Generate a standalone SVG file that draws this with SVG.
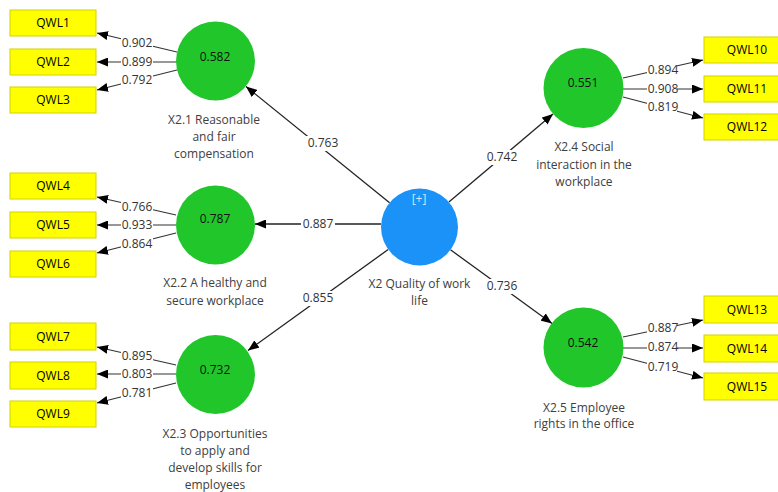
<svg xmlns="http://www.w3.org/2000/svg" width="778" height="492" viewBox="0 0 778 492">
<style>
text{font-family:"Open Sans","Noto Sans","Liberation Sans",sans-serif;font-size:12px;text-anchor:middle}
.box{fill:#ffff00;stroke:#d2d200;stroke-width:1}
.ind{fill:#000}
.lv{fill:#21c62b}
.hv{fill:#1b92f8}
.val{fill:#111}
.lbl{fill:#404040}
.el{fill:#333}
.bg{fill:#fff}
.m{stroke:#333;stroke-width:1.2;fill:none;marker-end:url(#ah)}
.s{stroke:#222;stroke-width:1.3;fill:none;marker-end:url(#ah)}
</style>
<defs>
<marker id="ah" markerUnits="userSpaceOnUse" markerWidth="11" markerHeight="9" refX="11" refY="4.5" orient="auto">
<path d="M0,0 L11,4.5 L0,9 z" fill="#000"/>
</marker>
</defs>
<rect width="778" height="492" fill="#fff"/>
<g id="connectors">
<line class="s" x1="389.6" y1="202.7" x2="246" y2="86.5"/>
<line class="s" x1="381" y1="224" x2="255" y2="224"/>
<line class="s" x1="388.2" y1="249.5" x2="248" y2="350.5"/>
<line class="s" x1="448.9" y1="202.1" x2="553" y2="114"/>
<line class="s" x1="450.5" y1="249.8" x2="552" y2="323.5"/>
<line class="m" x1="177" y1="52" x2="97" y2="33"/>
<line class="m" x1="177" y1="62" x2="97" y2="62"/>
<line class="m" x1="177" y1="70" x2="97" y2="90"/>
<line class="m" x1="176" y1="215" x2="97" y2="197"/>
<line class="m" x1="176" y1="225" x2="97" y2="225"/>
<line class="m" x1="176" y1="233" x2="97" y2="253"/>
<line class="m" x1="176" y1="365" x2="97" y2="347"/>
<line class="m" x1="176" y1="374" x2="97" y2="374"/>
<line class="m" x1="176" y1="383" x2="97" y2="403"/>
<line class="m" x1="623" y1="78" x2="703" y2="60"/>
<line class="m" x1="623" y1="89" x2="703" y2="89"/>
<line class="m" x1="623" y1="97" x2="703" y2="118"/>
<line class="m" x1="623" y1="337" x2="703" y2="320"/>
<line class="m" x1="623" y1="348" x2="703" y2="348"/>
<line class="m" x1="623" y1="357" x2="703" y2="378"/>
<g id="edge-labels">
<rect class="bg" x="306" y="136" width="34" height="15"/><text class="el" x="323" y="147">0.763</text>
<rect class="bg" x="301" y="217" width="34" height="15"/><text class="el" x="318" y="228">0.887</text>
<rect class="bg" x="301" y="291" width="34" height="15"/><text class="el" x="318" y="302">0.855</text>
<rect class="bg" x="485" y="150" width="34" height="15"/><text class="el" x="502" y="161">0.742</text>
<rect class="bg" x="485" y="279" width="34" height="15"/><text class="el" x="502" y="290">0.736</text>
<rect class="bg" x="121" y="36" width="32" height="14"/><text class="el" x="137" y="47">0.902</text>
<rect class="bg" x="121" y="55" width="32" height="14"/><text class="el" x="137" y="66">0.899</text>
<rect class="bg" x="121" y="73" width="32" height="14"/><text class="el" x="137" y="84">0.792</text>
<rect class="bg" x="121" y="200" width="32" height="14"/><text class="el" x="137" y="211">0.766</text>
<rect class="bg" x="121" y="218" width="32" height="14"/><text class="el" x="137" y="229">0.933</text>
<rect class="bg" x="121" y="237" width="32" height="14"/><text class="el" x="137" y="248">0.864</text>
<rect class="bg" x="121" y="349" width="32" height="14"/><text class="el" x="137" y="360">0.895</text>
<rect class="bg" x="121" y="367" width="32" height="14"/><text class="el" x="137" y="378">0.803</text>
<rect class="bg" x="121" y="386" width="32" height="14"/><text class="el" x="137" y="397">0.781</text>
<rect class="bg" x="647" y="63" width="30" height="14"/><text class="el" x="663" y="74">0.894</text>
<rect class="bg" x="647" y="82" width="30" height="14"/><text class="el" x="663" y="93">0.908</text>
<rect class="bg" x="647" y="100" width="30" height="14"/><text class="el" x="663" y="111">0.819</text>
<rect class="bg" x="647" y="321" width="30" height="14"/><text class="el" x="663" y="332">0.887</text>
<rect class="bg" x="647" y="340" width="30" height="14"/><text class="el" x="663" y="351">0.874</text>
<rect class="bg" x="647" y="360" width="30" height="14"/><text class="el" x="663" y="371">0.719</text>
</g>
</g>
<g id="X2">
<circle class="hv" cx="419.5" cy="227" r="38.5"/>
<text x="419" y="203" fill="#cfe6ff">[+]</text>
<text class="lbl" x="419.5" y="288">X2 Quality of work</text>
<text class="lbl" x="419.5" y="305">life</text>
</g>
<g id="X2.1">
<circle class="lv" cx="215.5" cy="61" r="39.5"/>
<text class="val" x="215" y="61">0.582</text>
<text class="lbl" x="214" y="124">X2.1 Reasonable</text>
<text class="lbl" x="214" y="141">and fair</text>
<text class="lbl" x="214" y="158">compensation</text>
</g>
<g id="X2.2">
<circle class="lv" cx="215.5" cy="225" r="39.5"/>
<text class="val" x="215" y="223">0.787</text>
<text class="lbl" x="215" y="287">X2.2 A healthy and</text>
<text class="lbl" x="215" y="305">secure workplace</text>
</g>
<g id="X2.3">
<circle class="lv" cx="215.5" cy="374.5" r="39.5"/>
<text class="val" x="215" y="374">0.732</text>
<text class="lbl" x="215" y="438">X2.3 Opportunities</text>
<text class="lbl" x="215" y="455">to apply and</text>
<text class="lbl" x="215" y="472">develop skills for</text>
<text class="lbl" x="215" y="489">employees</text>
</g>
<g id="X2.4">
<circle class="lv" cx="583.5" cy="88" r="40"/>
<text class="val" x="583" y="87">0.551</text>
<text class="lbl" x="584" y="151">X2.4 Social</text>
<text class="lbl" x="584" y="169">interaction in the</text>
<text class="lbl" x="584" y="186">workplace</text>
</g>
<g id="X2.5">
<circle class="lv" cx="583.5" cy="347.5" r="40"/>
<text class="val" x="583" y="347">0.542</text>
<text class="lbl" x="584" y="412">X2.5 Employee</text>
<text class="lbl" x="584" y="428">rights in the office</text>
</g>
<g id="QWL1"><rect class="box" x="10" y="10" width="86" height="26"/><text class="ind" x="53" y="27">QWL1</text></g>
<g id="QWL2"><rect class="box" x="10" y="49" width="86" height="26"/><text class="ind" x="53" y="66">QWL2</text></g>
<g id="QWL3"><rect class="box" x="10" y="87" width="86" height="26"/><text class="ind" x="53" y="104">QWL3</text></g>
<g id="QWL4"><rect class="box" x="10" y="173" width="86" height="26"/><text class="ind" x="53" y="190">QWL4</text></g>
<g id="QWL5"><rect class="box" x="10" y="212" width="86" height="26"/><text class="ind" x="53" y="229">QWL5</text></g>
<g id="QWL6"><rect class="box" x="10" y="251" width="86" height="26"/><text class="ind" x="53" y="268">QWL6</text></g>
<g id="QWL7"><rect class="box" x="10" y="323" width="86" height="27"/><text class="ind" x="53" y="341">QWL7</text></g>
<g id="QWL8"><rect class="box" x="10" y="362" width="86" height="27"/><text class="ind" x="53" y="380">QWL8</text></g>
<g id="QWL9"><rect class="box" x="10" y="401" width="86" height="26"/><text class="ind" x="53" y="418">QWL9</text></g>
<g id="QWL10"><rect class="box" x="704" y="37" width="86" height="26"/><text class="ind" x="747" y="54">QWL10</text></g>
<g id="QWL11"><rect class="box" x="704" y="76" width="86" height="26"/><text class="ind" x="747" y="93">QWL11</text></g>
<g id="QWL12"><rect class="box" x="704" y="114" width="86" height="26"/><text class="ind" x="747" y="131">QWL12</text></g>
<g id="QWL13"><rect class="box" x="704" y="296" width="86" height="27"/><text class="ind" x="747" y="314">QWL13</text></g>
<g id="QWL14"><rect class="box" x="704" y="335" width="86" height="27"/><text class="ind" x="747" y="353">QWL14</text></g>
<g id="QWL15"><rect class="box" x="704" y="373" width="86" height="27"/><text class="ind" x="747" y="391">QWL15</text></g>
</svg>
